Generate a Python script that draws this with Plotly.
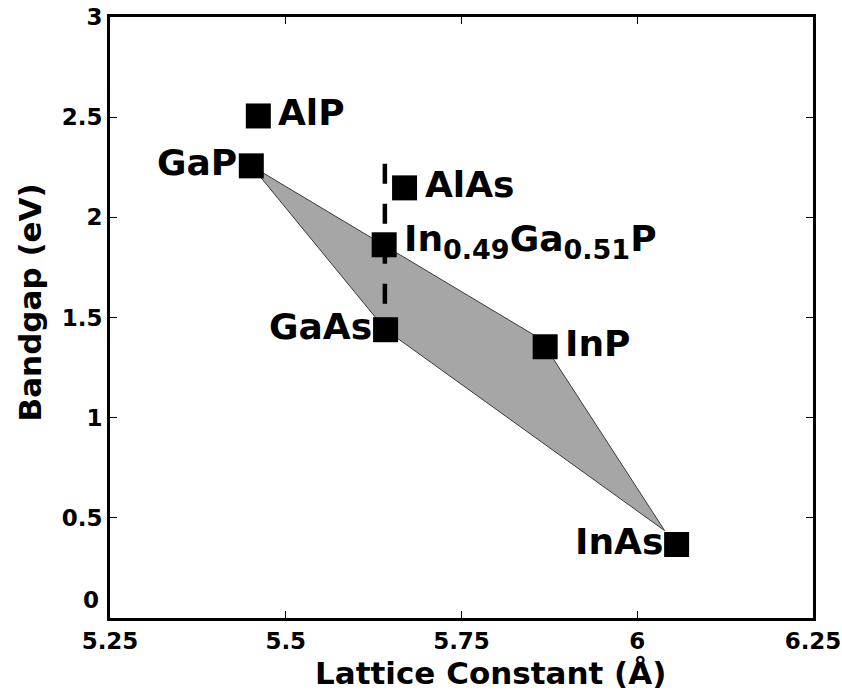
import plotly.graph_objects as go

# Material data (lattice constant in Å, bandgap in eV)
materials = ["AlP", "GaP", "AlAs",
             "In<sub><span style='font-size:27px'>0.49</span></sub>Ga<sub><span style='font-size:27px'>0.51</span></sub>P",
             "GaAs", "InP", "InAs"]
lattice = [5.461, 5.451, 5.669, 5.640, 5.642, 5.869, 6.056]
bandgap = [2.506, 2.257, 2.147, 1.863, 1.439, 1.354, 0.367]
label_side = ["right", "left", "right", "right", "left", "right", "left"]

# Shaded In-Ga-As-P region boundary: GaP -> InP -> InAs -> GaAs
region_x = [5.451, 5.862, 6.039, 5.642, 5.451]
region_y = [2.257, 1.394, 0.436, 1.439, 2.257]

# Lattice-matched dashed line at GaAs lattice constant
dash_x = [5.641, 5.641]
dash_y = [2.267, 1.439]

x_ticks = [5.25, 5.5, 5.75, 6, 6.25]
x_tick_text = ["5.25", "5.5", "5.75", "6", "6.25"]
y_ticks = [0, 0.5, 1, 1.5, 2, 2.5, 3]
y_tick_text = ["0", "0.5", "1", "1.5", "2", "2.5", "3"]

x_title = "Lattice Constant (Å)"
y_title = "Bandgap (eV)"

FONT = "DejaVu Sans, Verdana, sans-serif"

fig = go.Figure()

fig.add_trace(go.Scatter(
    x=region_x, y=region_y, mode="lines", fill="toself",
    fillcolor="#a6a6a6", line=dict(color="#3a3a3a", width=1),
    hoverinfo="skip", showlegend=False))

fig.add_trace(go.Scatter(
    x=dash_x, y=dash_y, mode="lines",
    line=dict(color="black", width=4.5, dash="20px,20px"),
    hoverinfo="skip", showlegend=False))

fig.add_trace(go.Scatter(
    x=lattice, y=bandgap, mode="markers",
    marker=dict(symbol="square", size=25, color="black", line=dict(width=0)),
    showlegend=False))

for name, xv, yv, side in zip(materials, lattice, bandgap, label_side):
    fig.add_annotation(
        x=xv, y=yv, xref="x", yref="y", text="<b>%s</b>" % name,
        showarrow=False, font=dict(family=FONT, size=36, color="black"),
        xanchor="left" if side == "right" else "right",
        yanchor="middle",
        xshift=18 if side == "right" else -12, yshift=3)

# tick labels: the "0" label sits raised above the corner in the reference
y_tick_shown = [t if t != "0" else "" for t in y_tick_text]
fig.add_annotation(
    x=x_ticks[0], y=y_ticks[0], xref="x", yref="y", text="<b>0</b>",
    showarrow=False, font=dict(family=FONT, size=23, color="black"),
    xanchor="right", yanchor="middle", xshift=-9, yshift=18)

fig.update_xaxes(
    range=[5.25, 6.25], tickvals=x_ticks,
    ticktext=["<b>%s</b>" % t for t in x_tick_text],
    ticks="inside", ticklen=7, tickwidth=1, tickcolor="black",
    showline=True, linecolor="black", linewidth=3, mirror="ticks",
    showgrid=False, zeroline=False, ticklabeloverflow="allow",
    tickfont=dict(family=FONT, size=23, color="black"))

fig.update_yaxes(
    range=[0, 3], tickvals=y_ticks,
    ticktext=["<b>%s</b>" % t if t else "" for t in y_tick_shown],
    ticks="inside", ticklen=7, tickwidth=1, tickcolor="black",
    showline=True, linecolor="black", linewidth=3, mirror="ticks",
    showgrid=False, zeroline=False, ticklabeloverflow="allow",
    tickfont=dict(family=FONT, size=23, color="black"))

# axis titles
fig.add_annotation(
    x=0.541, y=0, xref="paper", yref="paper", text="<b>%s</b>" % x_title,
    showarrow=False, font=dict(family=FONT, size=31, color="black"),
    xanchor="center", yanchor="middle", yshift=-55)
fig.add_annotation(
    x=0, y=0.525, xref="paper", yref="paper", text="<b>%s</b>" % y_title,
    showarrow=False, font=dict(family=FONT, size=31, color="black"),
    textangle=-90, xanchor="center", yanchor="middle", xshift=-80)

fig.update_layout(
    width=842, height=694,
    margin=dict(l=110, r=29, t=17, b=76, autoexpand=False),
    plot_bgcolor="white", paper_bgcolor="white",
    font=dict(family=FONT, color="black"))

fig.write_html("out.html")
